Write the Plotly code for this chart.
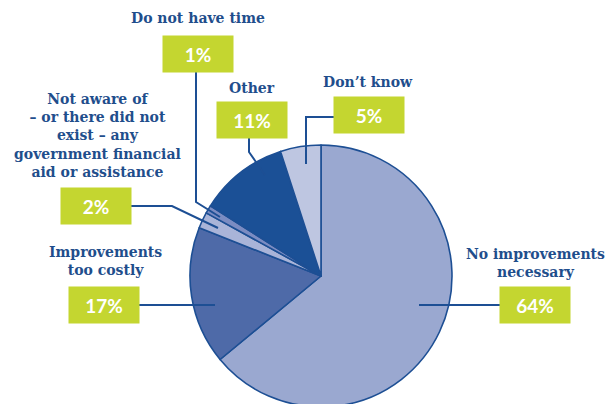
import plotly.graph_objects as go

# ---- data ----
categories = ["No improvements necessary", "Improvements too costly",
              "Not aware of – or there did not exist – any government financial aid or assistance",
              "Do not have time", "Other", "Don’t know"]
values = [64, 17, 2, 1, 11, 5]
label_texts = ["No improvements<br>necessary", "Improvements<br>too costly",
               "Not aware of<br>– or there did not<br>exist – any<br>government financial<br>aid or assistance",
               "Do not have time", "Other", "Don’t know"]
pct_texts = [f"{v}%" for v in values]

# ---- styling / layout ----
W, H = 610, 407
slice_colors = ["#9AA8D0", "#4E6AA8", "#A9B4D8", "#7B8CC2", "#1B5096", "#BEC6E1"]
edge = "#1D4F94"
green = "#C4D630"
text_blue = "#1F4E8C"

cx, cy, r = 321, 276, 131

def px(x, y):
    return x / W, 1 - y / H

# label block centers (px)
label_pos = [(535, 263), (105, 261), (97, 135), (198, 18), (252, 88), (368, 82)]
box_pos = [(535, 305), (104, 305), (96, 206), (198, 54), (252, 120), (369, 115)]
leaders = [
    [(419, 305), (500, 305)],
    [(139, 305), (215, 305)],
    [(131, 206), (172, 206), (218, 228)],
    [(196, 72), (196, 202), (220, 217)],
    [(249, 138), (249, 152), (265, 175)],
    [(334, 117), (306, 117), (306, 164)],
]

fig = go.Figure(go.Pie(
    labels=categories, values=values, sort=False, direction="clockwise", rotation=0,
    marker=dict(colors=slice_colors, line=dict(color=edge, width=1.6)),
    textinfo="none", hoverinfo="label+percent",
    domain=dict(x=[(cx - r) / W, (cx + r) / W], y=[max(0, (H - cy - r) / H), (H - cy + r) / H]),
    showlegend=False,
))

shapes = []
for pts in leaders:
    path = "M " + " L ".join(f"{px(x, y)[0]},{px(x, y)[1]}" for x, y in pts)
    shapes.append(dict(type="path", path=path, xref="paper", yref="paper",
                       line=dict(color=edge, width=2)))

annotations = []
for txt, (x, y) in zip(label_texts, label_pos):
    ax, ay = px(x, y)
    annotations.append(dict(x=ax, y=ay, xref="paper", yref="paper", text=txt, showarrow=False,
                            xanchor="center", yanchor="middle", align="center",
                            font=dict(family="DejaVu Serif", size=14, color=text_blue, weight="bold")))
for txt, (x, y) in zip(pct_texts, box_pos):
    ax, ay = px(x, y)
    annotations.append(dict(x=ax, y=ay, xref="paper", yref="paper", text=txt, showarrow=False,
                            xanchor="center", yanchor="middle", width=70, height=36,
                            bgcolor=green, borderpad=0,
                            font=dict(family="Lato", size=19, color="white", weight="bold")))

fig.update_layout(width=W, height=H, margin=dict(l=0, r=0, t=0, b=0),
                  paper_bgcolor="white", plot_bgcolor="white",
                  shapes=shapes, annotations=annotations)

fig.write_html("out.html", config={"displayModeBar": False},
               post_script="document.body.style.margin='0';document.body.style.overflow='hidden';")
